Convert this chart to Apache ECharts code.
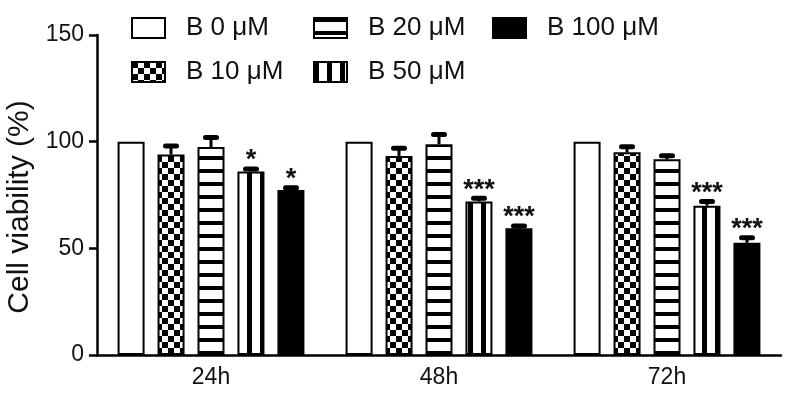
<!DOCTYPE html>
<html>
<head>
<meta charset="utf-8">
<script src="https://cdn.jsdelivr.net/npm/echarts@6/dist/echarts.min.js"></script>
<style>
  html, body { margin: 0; padding: 0; background: #fff; }
  #chart { width: 787px; height: 410px; }
</style>
</head>
<body>
<div id="chart"></div>
<script>
const categories = ["24h", "48h", "72h"];
const seriesNames = ["B 0 μM", "B 10 μM", "B 20 μM", "B 50 μM", "B 100 μM"];
const b0 = [100, 100, 100];
const b10 = [94, 93.3, 95];
const b20 = [97.5, 98.8, 91.7];
const b50 = [86, 72, 70];
const b100 = [77.3, 59.4, 52.6];
const sd0 = [0, 0, 0];
const sd10 = [4, 3.6, 2.6];
const sd20 = [4.5, 4.6, 1.7];
const sd50 = [1.2, 1.5, 1.9];
const sd100 = [1.1, 1.1, 2.4];
const stars50 = ["*", "***", "***"];
const stars100 = ["*", "***", "***"];
const yTicks = [0, 50, 100, 150];

const means = [b0, b10, b20, b50, b100];
const sds = [sd0, sd10, sd20, sd50, sd100];
const stars = [["", "", ""], ["", "", ""], ["", "", ""], stars50, stars100];

const FONT = "Liberation Sans, Arial, sans-serif";
const BAR_W = 27;
const STEP = 40;

function makePattern(w, h, draw) {
  const c = document.createElement("canvas");
  c.width = w; c.height = h;
  const ctx = c.getContext("2d");
  ctx.fillStyle = "#fff";
  ctx.fillRect(0, 0, w, h);
  ctx.fillStyle = "#000";
  draw(ctx);
  return { image: c, repeat: "repeat" };
}
const checker = makePattern(12, 12, (ctx) => { ctx.fillRect(0, 0, 6, 6); ctx.fillRect(6, 6, 6, 6); });
const hStripes = makePattern(4, 13, (ctx) => { ctx.fillRect(0, 0, 4, 4); });
const vStripes = makePattern(13, 4, (ctx) => { ctx.fillRect(0, 0, 5, 4); });
const fills = ["#fff", checker, hStripes, vStripes, "#000"];

const errItems = [];
means.forEach((arr, s) => {
  arr.forEach((m, c) => errItems.push([c, s, m, sds[s][c], stars[s][c]]));
});

const chart = echarts.init(document.getElementById("chart"));

const legendBase = {
  orient: "vertical",
  top: 10,
  itemWidth: 33,
  itemHeight: 20,
  itemGap: 18,
  selectedMode: false,
  icon: "rect",
  itemStyle: { borderColor: "#000", borderWidth: 2 },
  textStyle: { fontSize: 26, color: "#111", fontFamily: FONT, padding: [0, 0, 0, 16] },
};

chart.setOption({
  backgroundColor: "#fff",
  animation: false,
  textStyle: { fontFamily: FONT },
  legend: [
    { ...legendBase, left: 126, data: [seriesNames[0], seriesNames[1]] },
    { ...legendBase, left: 308, data: [seriesNames[2], seriesNames[3]] },
    { ...legendBase, left: 487, data: [seriesNames[4]] },
  ],
  grid: { left: 97, right: 6, top: 35, bottom: 55, outerBoundsMode: "none" },
  xAxis: {
    type: "category",
    data: categories,
    axisLine: { lineStyle: { color: "#000", width: 2.5 } },
    axisTick: { alignWithLabel: true, length: 7, lineStyle: { color: "#000", width: 2.5 } },
    axisLabel: { color: "#111", fontSize: 23, margin: 11, fontFamily: FONT },
  },
  yAxis: {
    type: "value",
    min: 0,
    max: 150,
    interval: 50,
    name: "Cell viability (%)",
    nameLocation: "middle",
    nameGap: 60,
    nameTextStyle: { color: "#111", fontSize: 30, fontFamily: FONT, padding: [0, 24, 0, 0] },
    axisLine: { show: true, lineStyle: { color: "#000", width: 2.5 } },
    axisTick: { show: true, length: 8, lineStyle: { color: "#000", width: 2.5 } },
    axisLabel: {
      color: "#111", fontSize: 23, margin: 13, fontFamily: FONT,
      formatter: (v) => (yTicks.includes(v) ? String(v) : ""),
    },
    splitLine: { show: false },
  },
  series: [
    ...seriesNames.map((name, s) => ({
      name,
      type: "bar",
      data: means[s],
      barWidth: BAR_W,
      barGap: "48%",
      itemStyle: { color: fills[s], borderColor: "#000", borderWidth: 2 },
    })),
    {
      type: "custom",
      data: errItems,
      encode: { x: 0, y: 2 },
      z: 5,
      renderItem: (params, api) => {
        const item = errItems[params.dataIndex];
        const [c, s, m, sd, star] = item;
        const base = api.coord([c, m]);
        const top = api.coord([c, m + sd]);
        const x = base[0] + (s - 2) * STEP;
        const children = [];
        if (sd > 0) {
          children.push({
            type: "line",
            shape: { x1: x, y1: base[1], x2: x, y2: top[1] },
            style: { stroke: "#000", lineWidth: 3 },
          });
          children.push({
            type: "rect",
            shape: { x: x - 8, y: top[1] - 2.5, width: 16, height: 5, r: 2.5 },
            style: { fill: "#000" },
          });
        }
        if (star) {
          children.push({
            type: "text",
            style: {
              text: star, x: x, y: top[1] - 8,
              align: "center", verticalAlign: "middle",
              font: "bold 27px " + FONT, fill: "#111",
            },
          });
        }
        return { type: "group", children };
      },
    },
  ],
});
</script>
</body>
</html>
